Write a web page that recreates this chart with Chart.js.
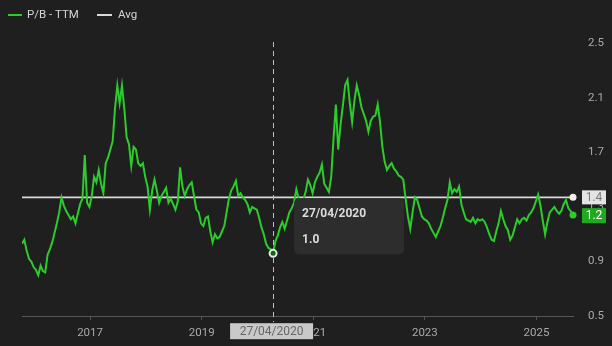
<!DOCTYPE html>
<html>
<head>
<meta charset="utf-8">
<script src="https://cdn.jsdelivr.net/npm/chart.js@4"></script>
<style>
  html, body { margin: 0; padding: 0; background: #1f1f1f; }
  #wrap { width: 612px; height: 346px; }
</style>
</head>
<body>
<div id="wrap"><canvas id="chart"></canvas></div>
<script>
// P/B - TTM, one reading every half month from Oct 2015
const startYear = 2015.78;
const pb = [
  1.03, 1.06, 0.98, 0.92, 0.90, 0.86, 0.84, 0.80, 0.87, 0.83,
  0.82, 0.95, 0.99, 1.04, 1.11, 1.18, 1.26, 1.37, 1.31, 1.27,
  1.24, 1.21, 1.23, 1.18, 1.25, 1.32, 1.36, 1.68, 1.33, 1.30,
  1.38, 1.52, 1.48, 1.57, 1.47, 1.40, 1.62, 1.66, 1.72, 1.78,
  2.02, 2.19, 2.06, 2.19, 2.02, 1.81, 1.76, 1.60, 1.74, 1.72,
  1.62, 1.60, 1.62, 1.52, 1.45, 1.28, 1.42, 1.50, 1.42, 1.33,
  1.38, 1.41, 1.44, 1.33, 1.36, 1.32, 1.28, 1.34, 1.59, 1.45,
  1.38, 1.43, 1.46, 1.48, 1.38, 1.28, 1.26, 1.18, 1.16, 1.22,
  1.23, 1.12, 1.04, 1.10, 1.07, 1.08, 1.12, 1.16, 1.26, 1.36,
  1.42, 1.45, 1.49, 1.38, 1.40, 1.37, 1.35, 1.32, 1.26, 1.30,
  1.29, 1.28, 1.22, 1.15, 1.10, 1.03, 1.00, 0.99, 0.96, 1.05,
  1.09, 1.15, 1.19, 1.14, 1.20, 1.26, 1.29, 1.33, 1.43, 1.36,
  1.33, 1.35, 1.41, 1.50, 1.46, 1.40, 1.48, 1.52, 1.55, 1.61,
  1.47, 1.44, 1.41, 1.52, 1.80, 2.05, 1.72, 1.90, 2.04, 2.19,
  2.23, 2.06, 1.92, 2.08, 2.19, 2.12, 2.03, 1.98, 1.93, 1.85,
  1.93, 1.96, 1.97, 2.05, 1.92, 1.74, 1.63, 1.57, 1.60, 1.62,
  1.58, 1.56, 1.53, 1.52, 1.50, 1.36, 1.23, 1.14, 1.26, 1.37,
  1.35, 1.29, 1.23, 1.21, 1.20, 1.18, 1.14, 1.11, 1.08, 1.12,
  1.16, 1.22, 1.29, 1.35, 1.48, 1.40, 1.43, 1.41, 1.45, 1.32,
  1.26, 1.21, 1.20, 1.19, 1.22, 1.18, 1.21, 1.20, 1.21, 1.19,
  1.15, 1.10, 1.06, 1.05, 1.12, 1.18, 1.27, 1.21, 1.16, 1.13,
  1.06, 1.09, 1.15, 1.21, 1.18, 1.21, 1.22, 1.20, 1.24, 1.26,
  1.29, 1.34, 1.39, 1.31, 1.20, 1.10, 1.19, 1.26, 1.28, 1.30,
  1.27, 1.25, 1.27, 1.32, 1.35, 1.29, 1.27, 1.24
];
const avgValue = 1.37;
const xTicks = [2017, 2019, 2021, 2023, 2025];
const yTicks = [0.5, 0.9, 1.3, 1.7, 2.1, 2.5];
const hoverIndex = 108;
const hoverDate = '27/04/2020';

const GREEN = '#2bcc2b';
const WHITE = '#d9d9d9';
const FONT = 'Roboto, "Liberation Sans", sans-serif';

const points = pb.map((v, i) => ({ x: startYear + i / 24, y: v }));
const lastX = points[points.length - 1].x;

function roundRect(ctx, x, y, w, h, r) {
    ctx.beginPath();
    ctx.moveTo(x + r, y);
    ctx.arcTo(x + w, y, x + w, y + h, r);
    ctx.arcTo(x + w, y + h, x, y + h, r);
    ctx.arcTo(x, y + h, x, y, r);
    ctx.arcTo(x, y, x + w, y, r);
    ctx.closePath();
}

const overlay = {
    id: 'overlay',
    beforeDraw(chart) {
        const ctx = chart.ctx;
        ctx.save();
        ctx.fillStyle = '#1f1f1f';
        ctx.fillRect(0, 0, chart.width, chart.height);
        ctx.restore();
    },
    afterDraw(chart) {
        const ctx = chart.ctx;
        const area = chart.chartArea;
        const ys = chart.scales.y;
        const meta = chart.getDatasetMeta(0);
        const avgMeta = chart.getDatasetMeta(1);
        ctx.save();

        // legend
        ctx.font = '11.5px ' + FONT;
        ctx.textBaseline = 'middle';
        ctx.lineWidth = 2;
        ctx.strokeStyle = GREEN;
        ctx.beginPath(); ctx.moveTo(8, 15); ctx.lineTo(22, 15); ctx.stroke();
        ctx.fillStyle = '#d4d4d4';
        ctx.fillText(chart.data.datasets[0].label, 27, 15);
        ctx.strokeStyle = WHITE;
        ctx.beginPath(); ctx.moveTo(97, 15); ctx.lineTo(112, 15); ctx.stroke();
        ctx.fillText(chart.data.datasets[1].label, 118, 15);

        // crosshair at hovered point
        const hp = meta.data[hoverIndex];
        ctx.setLineDash([5, 4]);
        ctx.lineWidth = 1;
        ctx.strokeStyle = '#bdbdbd';
        ctx.beginPath();
        ctx.moveTo(Math.round(hp.x) + 0.5, area.top - 1);
        ctx.lineTo(Math.round(hp.x) + 0.5, area.bottom + 6);
        ctx.stroke();
        ctx.setLineDash([]);

        ctx.beginPath();
        ctx.arc(hp.x, hp.y, 3.5, 0, Math.PI * 2);
        ctx.fillStyle = '#1f5a1f';
        ctx.fill();
        ctx.lineWidth = 2;
        ctx.strokeStyle = '#d8f5d8';
        ctx.stroke();

        // tooltip box
        const tx = hp.x + 21, ty = hp.y - 55;
        roundRect(ctx, tx, ty, 110, 56, 5);
        ctx.fillStyle = '#2d2d2d';
        ctx.fill();
        ctx.fillStyle = '#dcdcdc';
        ctx.font = 'bold 12px ' + FONT;
        ctx.textAlign = 'left';
        ctx.fillText(hoverDate, tx + 8, ty + 16);
        ctx.fillText(pb[hoverIndex].toFixed(1), tx + 8, ty + 42);

        // date badge on x axis
        ctx.font = '12px ' + FONT;
        ctx.fillStyle = '#c9c9c9';
        ctx.fillRect(hp.x - 43, area.bottom + 7, 83, 16);
        ctx.fillStyle = '#666';
        ctx.textAlign = 'center';
        ctx.fillText(hoverDate, hp.x - 1.5, area.bottom + 15.5);

        // end dots
        const lp = meta.data[meta.data.length - 1];
        const ap = avgMeta.data[avgMeta.data.length - 1];
        ctx.beginPath(); ctx.arc(ap.x, ap.y, 3.5, 0, Math.PI * 2);
        ctx.fillStyle = '#f2f2f2'; ctx.fill();
        ctx.beginPath(); ctx.arc(lp.x, lp.y, 3.5, 0, Math.PI * 2);
        ctx.fillStyle = GREEN; ctx.fill();

        // value badges on the right axis
        ctx.font = '12px ' + FONT;
        const bx = area.right + 9;
        const ay = ys.getPixelForValue(avgValue);
        ctx.fillStyle = '#e4e4e4';
        ctx.fillRect(bx, ay - 7, 24, 14);
        ctx.fillStyle = '#7a7a7a';
        ctx.fillText(avgValue.toFixed(1), bx + 12, ay + 0.5);
        const lv = pb[pb.length - 1];
        const ly = Math.max(ys.getPixelForValue(lv), ay + 15);
        ctx.fillStyle = '#1faa1f';
        ctx.fillRect(bx, ly - 7, 24, 15);
        ctx.fillStyle = '#ffffff';
        ctx.fillText(lv.toFixed(1), bx + 12, ly + 0.5);

        ctx.restore();
    }
};

new Chart(document.getElementById('chart').getContext('2d'), {
    type: 'line',
    data: {
        datasets: [{
            label: 'P/B - TTM',
            data: points,
            borderColor: GREEN,
            backgroundColor: GREEN,
            borderWidth: 2,
            pointRadius: 0,
            tension: 0,
            fill: false
        }, {
            label: 'Avg',
            data: [{ x: startYear, y: avgValue }, { x: lastX, y: avgValue }],
            borderColor: WHITE,
            backgroundColor: WHITE,
            borderWidth: 1.6,
            pointRadius: 0,
            fill: false
        }]
    },
    options: {
        responsive: true,
        maintainAspectRatio: false,
        animation: false,
        events: [],
        layout: { padding: { left: 22, top: 43, right: 8, bottom: 0 } },
        plugins: { legend: { display: false }, tooltip: { enabled: false } },
        scales: {
            x: {
                type: 'linear',
                min: startYear,
                max: lastX,
                afterBuildTicks: s => { s.ticks = xTicks.map(v => ({ value: v })); },
                grid: { drawOnChartArea: false, drawTicks: true, tickLength: 4, color: '#555' },
                border: { color: '#555', width: 1 },
                ticks: {
                    color: '#a9a9a9',
                    padding: 6,
                    maxRotation: 0,
                    font: { family: FONT, size: 11.5 },
                    callback: v => String(v)
                }
            },
            y: {
                position: 'right',
                min: 0.5,
                max: 2.5,
                afterBuildTicks: s => { s.ticks = yTicks.map(v => ({ value: v })); },
                afterFit: s => { s.width = 31; },
                grid: { display: false, drawTicks: false },
                border: { display: false },
                ticks: {
                    color: '#a9a9a9',
                    padding: 15,
                    font: { family: FONT, size: 11.5 },
                    callback: v => v.toFixed(1)
                }
            }
        }
    },
    plugins: [overlay]
});
</script>
</body>
</html>
